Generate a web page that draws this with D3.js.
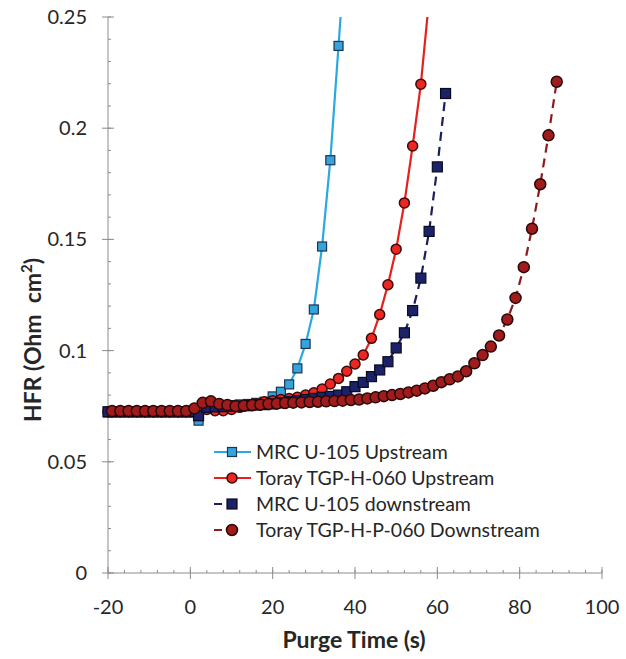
<!DOCTYPE html>
<html>
<head>
<meta charset="utf-8">
<script src="https://cdn.jsdelivr.net/npm/d3@7"></script>
<style>
  body { margin: 0; background: #fff; }
  text { font-family: Lato, "Open Sans", sans-serif; fill: #262626; }
</style>
</head>
<body>
<div id="chart"></div>
<script>
// purge time (s) and HFR (Ohm cm2) for each sample
var tUp = [-20,-18,-16,-14,-12,-10,-8,-6,-4,-2,0,2,4,6,8,10,12,14,16,18,20,22,24,26,28,30,32,34,36,38];
var mrcUp = [0.0722,0.0722,0.0722,0.0722,0.0722,0.0722,0.0722,0.0722,0.0722,0.0722,0.0722,0.0685,0.0745,0.075,0.0752,0.0755,0.0758,0.076,0.0765,0.077,0.0794,0.0815,0.0848,0.092,0.103,0.1185,0.1468,0.1856,0.237,0.29];

var tTorUp = [-20,-18,-16,-14,-12,-10,-8,-6,-4,-2,0,2,4,6,8,10,12,14,16,18,20,22,24,26,28,30,32,34,36,38,40,42,44,46,48,50,52,54,56,58];
var torayUp = [0.0725,0.0725,0.0725,0.0725,0.0725,0.0725,0.0725,0.0725,0.0725,0.0725,0.0725,0.073,0.0735,0.073,0.073,0.0735,0.0745,0.0755,0.076,0.077,0.0775,0.078,0.0785,0.079,0.080,0.081,0.0827,0.085,0.0875,0.0907,0.094,0.098,0.1055,0.1162,0.1296,0.1456,0.1664,0.192,0.2198,0.258];

var tMrcDown = [-20,-18,-16,-14,-12,-10,-8,-6,-4,-2,0,2,4,6,8,10,12,14,16,18,20,22,24,26,28,30,32,34,36,38,40,42,44,46,48,50,52,54,56,58,60,62];
var mrcDown = [0.0725,0.0725,0.0725,0.0725,0.0725,0.0725,0.0725,0.0725,0.0725,0.0725,0.0725,0.0707,0.0745,0.0747,0.0748,0.075,0.0751,0.0752,0.0755,0.0757,0.076,0.0765,0.077,0.0775,0.078,0.0785,0.079,0.0794,0.080,0.0815,0.0838,0.0857,0.0883,0.0913,0.095,0.1012,0.108,0.118,0.1326,0.1536,0.1826,0.2156];

var tTorDown = [-19,-17,-15,-13,-11,-9,-7,-5,-3,-1,1,3,5,7,9,11,13,15,17,19,21,23,25,27,29,31,33,35,37,39,41,43,45,47,49,51,53,55,57,59,61,63,65,67,69,71,73,75,77,79,81,83,85,87,89];
var torayDown = [0.0728,0.0728,0.0728,0.0728,0.0728,0.0728,0.0728,0.0728,0.0728,0.0728,0.074,0.0765,0.0772,0.076,0.0755,0.075,0.0752,0.0755,0.0757,0.076,0.0762,0.0764,0.0766,0.0767,0.0769,0.077,0.0772,0.0773,0.0775,0.0778,0.078,0.0785,0.079,0.0795,0.080,0.0805,0.0812,0.082,0.083,0.0842,0.0858,0.0871,0.0884,0.0907,0.0943,0.098,0.1018,0.1068,0.114,0.1237,0.1375,0.1548,0.1748,0.1968,0.2209];

var seriesNames = ["MRC U-105 Upstream", "Toray TGP-H-060 Upstream", "MRC U-105 downstream", "Toray TGP-H-P-060 Downstream"];
var xTicks = [-20, 0, 20, 40, 60, 80, 100];
var yTicks = [0, 0.05, 0.1, 0.15, 0.2, 0.25];

(function(){
  var W = 626, H = 659;
  var left = 108, right = 602, top = 17, bottom = 573;

  var x = d3.scaleLinear().domain([-20, 100]).range([left, right]);
  var y = d3.scaleLinear().domain([0, 0.25]).range([bottom, top]);

  var svg = d3.select("#chart").append("svg")
    .attr("width", W).attr("height", H);

  svg.append("defs").append("clipPath").attr("id", "plot")
    .append("rect").attr("x", left - 10).attr("y", top)
    .attr("width", right - left + 20).attr("height", bottom - top + 10);

  // axes
  var axisColor = "#8c8c8c";
  var gx = svg.append("g").attr("transform", "translate(0," + bottom + ")");
  gx.append("line").attr("x1", left).attr("x2", right).attr("stroke", axisColor);
  gx.selectAll(".minor").data(d3.range(-20, 100.1, 4)).enter().append("line")
    .attr("x1", function(d){ return x(d); }).attr("x2", function(d){ return x(d); })
    .attr("y1", -3).attr("y2", 0).attr("stroke", axisColor);
  gx.selectAll(".major").data(xTicks).enter().append("line")
    .attr("x1", function(d){ return x(d); }).attr("x2", function(d){ return x(d); })
    .attr("y1", -6).attr("y2", 6).attr("stroke", axisColor);
  gx.selectAll(".lbl").data(xTicks).enter().append("text")
    .attr("x", function(d){ return x(d); }).attr("y", 41)
    .attr("text-anchor", "middle").attr("font-size", 20)
    .text(function(d){ return d; });

  var gy = svg.append("g").attr("transform", "translate(" + left + ",0)");
  gy.append("line").attr("y1", top).attr("y2", bottom).attr("stroke", axisColor);
  gy.selectAll(".minor").data(d3.range(0, 0.2501, 0.01)).enter().append("line")
    .attr("y1", function(d){ return y(d); }).attr("y2", function(d){ return y(d); })
    .attr("x1", 0).attr("x2", 3).attr("stroke", axisColor);
  gy.selectAll(".major").data(yTicks).enter().append("line")
    .attr("y1", function(d){ return y(d); }).attr("y2", function(d){ return y(d); })
    .attr("x1", -6).attr("x2", 6).attr("stroke", axisColor);
  gy.selectAll(".lbl").data(yTicks).enter().append("text")
    .attr("x", -21).attr("y", function(d){ return y(d); })
    .attr("dy", "0.35em").attr("text-anchor", "end").attr("font-size", 20)
    .text(function(d){ return d; });

  // axis titles
  svg.append("text").attr("x", 354).attr("y", 648)
    .attr("text-anchor", "middle").attr("font-size", 23).attr("font-weight", "bold")
    .text("Purge Time (s)");
  var yt = svg.append("text")
    .attr("transform", "translate(41,340) rotate(-90)")
    .attr("text-anchor", "middle").attr("font-size", 23).attr("font-weight", "bold");
  yt.append("tspan").text("HFR (Ohm\u00a0\u00a0cm");
  yt.append("tspan").attr("dy", -9).attr("font-size", 15).text("2");
  yt.append("tspan").attr("dy", 9).text(")");

  var series = [
    {name: seriesNames[0], t: tUp, v: mrcUp, line: "#2aa8e0", fill: "#35a3de", stroke: "#1d3550", shape: "square", dash: null, size: 9},
    {name: seriesNames[1], t: tTorUp, v: torayUp, line: "#e3211f", fill: "#ee2622", stroke: "#3a0c0c", shape: "circle", dash: null, size: 9},
    {name: seriesNames[2], t: tMrcDown, v: mrcDown, line: "#1a1f5c", fill: "#1c2268", stroke: "#080a20", shape: "square", dash: "9,6", size: 10},
    {name: seriesNames[3], t: tTorDown, v: torayDown, line: "#8e1a1c", fill: "#a01c1c", stroke: "#2a0808", shape: "circle", dash: "9,6", size: 10}
  ];

  var line = d3.line()
    .x(function(d){ return x(d[0]); })
    .y(function(d){ return y(d[1]); });

  function drawMarker(g, shape, size, fill, stroke) {
    if (shape === "square") {
      return g.append("rect").attr("x", -size / 2).attr("y", -size / 2)
        .attr("width", size).attr("height", size)
        .attr("fill", fill).attr("stroke", stroke).attr("stroke-width", 1.2);
    }
    return g.append("circle").attr("r", size / 2 + 0.5)
      .attr("fill", fill).attr("stroke", stroke).attr("stroke-width", 1.5);
  }

  var plot = svg.append("g").attr("clip-path", "url(#plot)");

  // series in legend order, later ones on top
  series.forEach(function(s){
    var pts = s.t.map(function(t, j){ return [t, s.v[j]]; });
    plot.append("path").datum(pts)
      .attr("d", line).attr("fill", "none")
      .attr("stroke", s.line).attr("stroke-width", 2.2)
      .attr("stroke-dasharray", s.dash);
    var inside = pts.filter(function(p){ return p[1] <= 0.25; });
    inside.forEach(function(p){
      var g = plot.append("g").attr("transform", "translate(" + x(p[0]) + "," + y(p[1]) + ")");
      drawMarker(g, s.shape, s.size, s.fill, s.stroke);
    });
  });

  // legend
  var lg = svg.append("g");
  var rows = [452, 478, 504, 530];
  series.forEach(function(s, i){
    var r = lg.append("g").attr("transform", "translate(0," + rows[i] + ")");
    r.append("line").attr("x1", 214).attr("x2", s.dash ? 232 : 251)
      .attr("stroke", s.line).attr("stroke-width", 2.2)
      .attr("stroke-dasharray", s.dash ? "8,6" : null);
    var m = r.append("g").attr("transform", "translate(232,0)");
    drawMarker(m, s.shape, s.size, s.fill, s.stroke);
    r.append("text").attr("x", 256).attr("dy", "0.35em")
      .attr("font-size", 19.5).text(s.name);
  });
})();
</script>
</body>
</html>
